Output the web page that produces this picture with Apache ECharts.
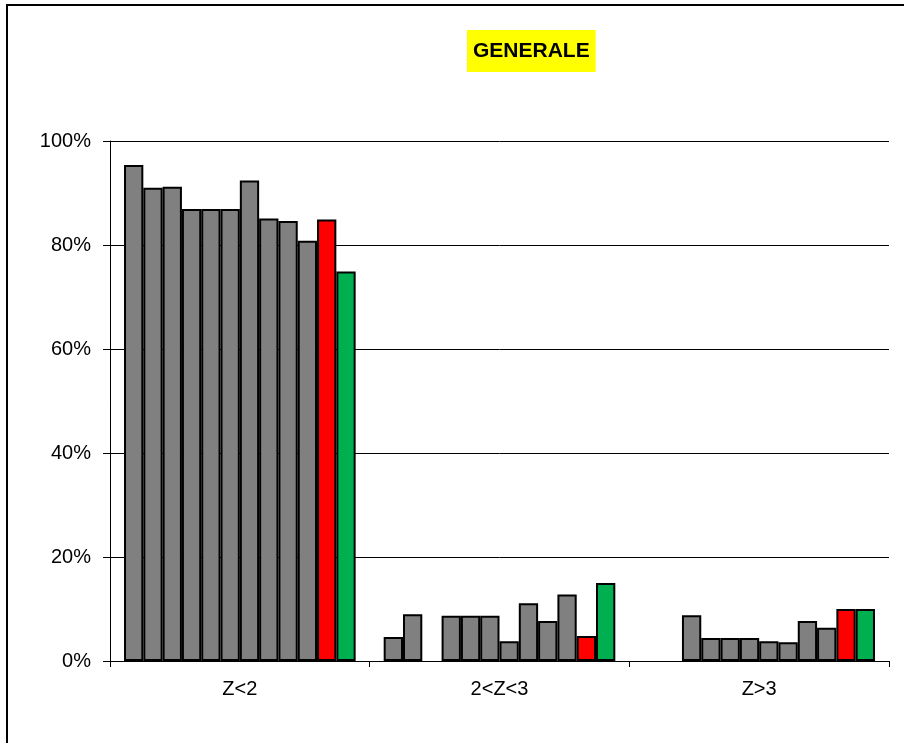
<!DOCTYPE html>
<html>
<head>
<meta charset="utf-8">
<script src="https://cdn.jsdelivr.net/npm/echarts@6/dist/echarts.min.js"></script>
<style>
html,body{margin:0;padding:0;background:#fff;}
#chart{width:904px;height:743px;}
</style>
</head>
<body>
<div id="chart"></div>
<script>
const titleText = 'GENERALE';
const categories = ['Z<2', '2<Z<3', 'Z>3'];
const yTicks = [0, 20, 40, 60, 80, 100];

// grey series (values in %, null = no bar)
const g1  = [95.4, 4.6, null];
const g2  = [91.0, 9.0, null];
const g3  = [91.2, null, 8.8];
const g4  = [86.9, 8.7, 4.4];
const g5  = [86.9, 8.7, 4.4];
const g6  = [86.9, 8.7, 4.4];
const g7  = [92.4, 3.8, 3.8];
const g8  = [85.1, 11.1, 3.6];
const g9  = [84.6, 7.7, 7.7];
const g10 = [80.8, 12.8, 6.4];
const redSeries   = [84.9, 4.8, 10.0];
const greenSeries = [74.9, 15.0, 10.0];

const greySets = [g1, g2, g3, g4, g5, g6, g7, g8, g9, g10];
const FONT = "'Liberation Sans', Arial, sans-serif";

function mk(name, data, color) {
  return {
    name: name,
    type: 'bar',
    data: data,
    barGap: '0%',
    barCategoryGap: '10.8%',
    itemStyle: { color: color, borderColor: '#000', borderWidth: 2 },
    emphasis: { disabled: true },
    animation: false
  };
}

const series = greySets.map((d, i) => mk('S' + (i + 1), d, '#808080'));
series.push(mk('R', redSeries, '#FF0000'));
series.push(mk('V', greenSeries, '#00B050'));

const chart = echarts.init(document.getElementById('chart'), null, { renderer: 'canvas' });
chart.setOption({
  backgroundColor: '#fff',
  animation: false,
  title: {
    text: titleText,
    left: 467,
    top: 30,
    padding: [11, 6, 10, 6],
    backgroundColor: '#FFFF00',
    textStyle: { fontFamily: FONT, fontSize: 21, fontWeight: 'bold', color: '#000' }
  },
  grid: { left: 110, right: 15, top: 141, bottom: 82, containLabel: false },
  xAxis: {
    type: 'category',
    data: categories,
    axisLine: { lineStyle: { color: '#000', width: 1 } },
    axisTick: { show: true, length: 6, lineStyle: { color: '#000' } },
    axisLabel: { fontFamily: FONT, fontSize: 20, color: '#000', margin: 18 },
    splitLine: { show: false }
  },
  yAxis: {
    type: 'value',
    min: yTicks[0],
    max: yTicks[yTicks.length - 1],
    interval: 20,
    axisLine: { show: true, lineStyle: { color: '#000', width: 1 } },
    axisTick: { show: true, length: 7, lineStyle: { color: '#000' } },
    axisLabel: { fontFamily: FONT, fontSize: 20, color: '#000', margin: 19, formatter: '{value}%' },
    splitLine: { show: true, lineStyle: { color: '#000', width: 1 } }
  },
  graphic: [{
    type: 'rect',
    shape: { x: 7, y: 5, width: 1000, height: 1000 },
    style: { fill: 'none', stroke: '#000', lineWidth: 2 },
    silent: true,
    z: 100
  }],
  series: series
});
</script>
</body>
</html>
